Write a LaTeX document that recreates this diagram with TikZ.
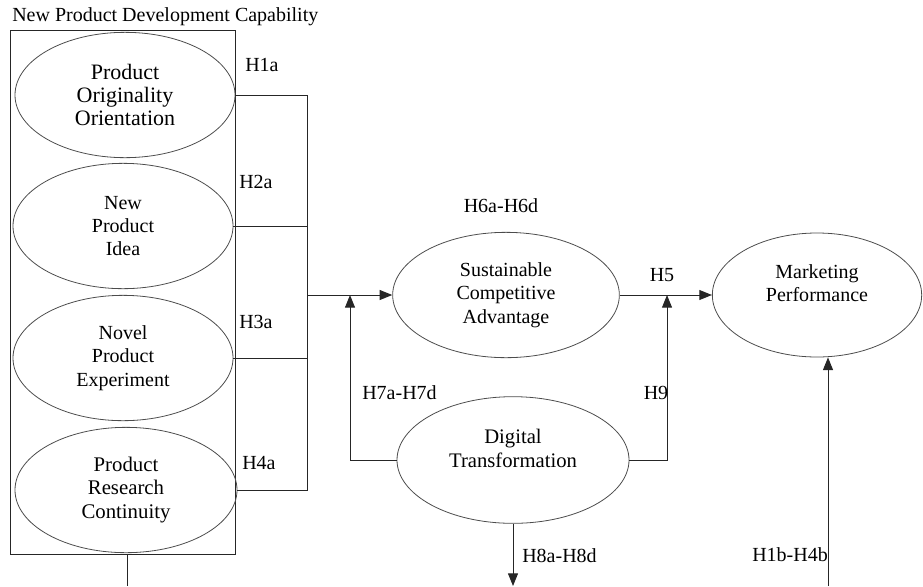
\documentclass[tikz,border=0pt]{standalone}
\usepackage{fontspec}
\setmainfont{Liberation Serif}
\usetikzlibrary{shapes.geometric,arrows.meta}

\begin{document}
\begin{tikzpicture}[x=0.75pt,y=-0.75pt,
	font=\fontsize{15}{17.5}\selectfont,
	latent/.style={ellipse, draw=black!70, line width=0.6pt, inner sep=0pt, align=center,
		minimum width=165pt, minimum height=94pt},
	link/.style={draw=black!85, line width=0.75pt},
	arr/.style={link, -{Triangle[length=9.5pt,width=7.5pt]}},
	hyp/.style={inner sep=0pt}]
	\useasboundingbox (0,0) rectangle (923,586);

	% Capability block
	\node[hyp, anchor=west] (title) at (12,17) {New Product Development Capability};
	\node[draw=black!85, line width=0.75pt, minimum width=168.75pt, minimum height=393pt] (npdc) at (122.5,292) {};

	% Dimensions
	\node[latent, font=\fontsize{16.5}{17.5}\selectfont] (poo) at (125,95) {Product\\Originality\\Orientation};
	\node[latent] (npi) at (123,226) {New\\Product\\Idea};
	\node[latent] (npe) at (123,358) {Novel\\Product\\Experiment};
	\node[latent, minimum width=166.5pt, font=\fontsize{15.6}{17.5}\selectfont] (prc) at (126,490) {Product\\Research\\Continuity};

	% Other constructs
	\node[latent, minimum width=170pt] (sca) at (506,295) {Sustainable\\Competitive\\Advantage};
	\node[latent, minimum width=157pt, minimum height=93pt] (mp) at (817,295) {Marketing\\Performance\\\mbox{}};
	\node[latent, minimum width=174pt, minimum height=95pt, font=\fontsize{15.5}{17.5}\selectfont] (dt) at (513,460) {Digital\\Transformation\\\mbox{}};

	% Paths into SCA
	\coordinate (bus) at (307,295);
	\draw[link] (poo.east) -| (bus);
	\draw[link] (prc.east) -| (bus);
	\draw[link] (npi.east) -- (npi.east -| bus);
	\draw[link] (npe.east) -- (npe.east -| bus);
	\draw[arr] (bus) -- (sca.west);
	\draw[arr] (sca.east) -- (mp.west);

	% Moderation by DT
	\coordinate (m7) at (350,295);
	\coordinate (m9) at (667,295);
	\draw[arr] (dt.west) -| (m7);
	\draw[arr] (dt.east) -| (m9);

	% Open ends
	\coordinate (out8) at (513,586);
	\draw[arr] (dt.south) -- (out8);
	\coordinate (in1) at (828,586);
	\draw[arr] (in1) -- (in1 |- mp.south);
	\coordinate (cap) at (127,586);
	\draw[link] (cap |- npdc.south) -- (cap);

	% Hypotheses
	\node[hyp, anchor=west] (h1a) at (245,65) {H1a};
	\node[hyp, anchor=west] (h2a) at (239,182) {H2a};
	\node[hyp, anchor=west] (h3a) at (239,322) {H3a};
	\node[hyp, anchor=west] (h4a) at (242,463) {H4a};
	\node[hyp] (h6) at (501,206) {H6a-H6d};
	\node[hyp] (h5) at (662,275) {H5};
	\node[hyp, anchor=west] (h7) at (362,393) {H7a-H7d};
	\node[hyp] (h9) at (656,393) {H9};
	\node[hyp, anchor=west] (h8) at (522,556) {H8a-H8d};
	\node[hyp, anchor=west] (h1b) at (752,555) {H1b-H4b};

\end{tikzpicture}
\end{document}
